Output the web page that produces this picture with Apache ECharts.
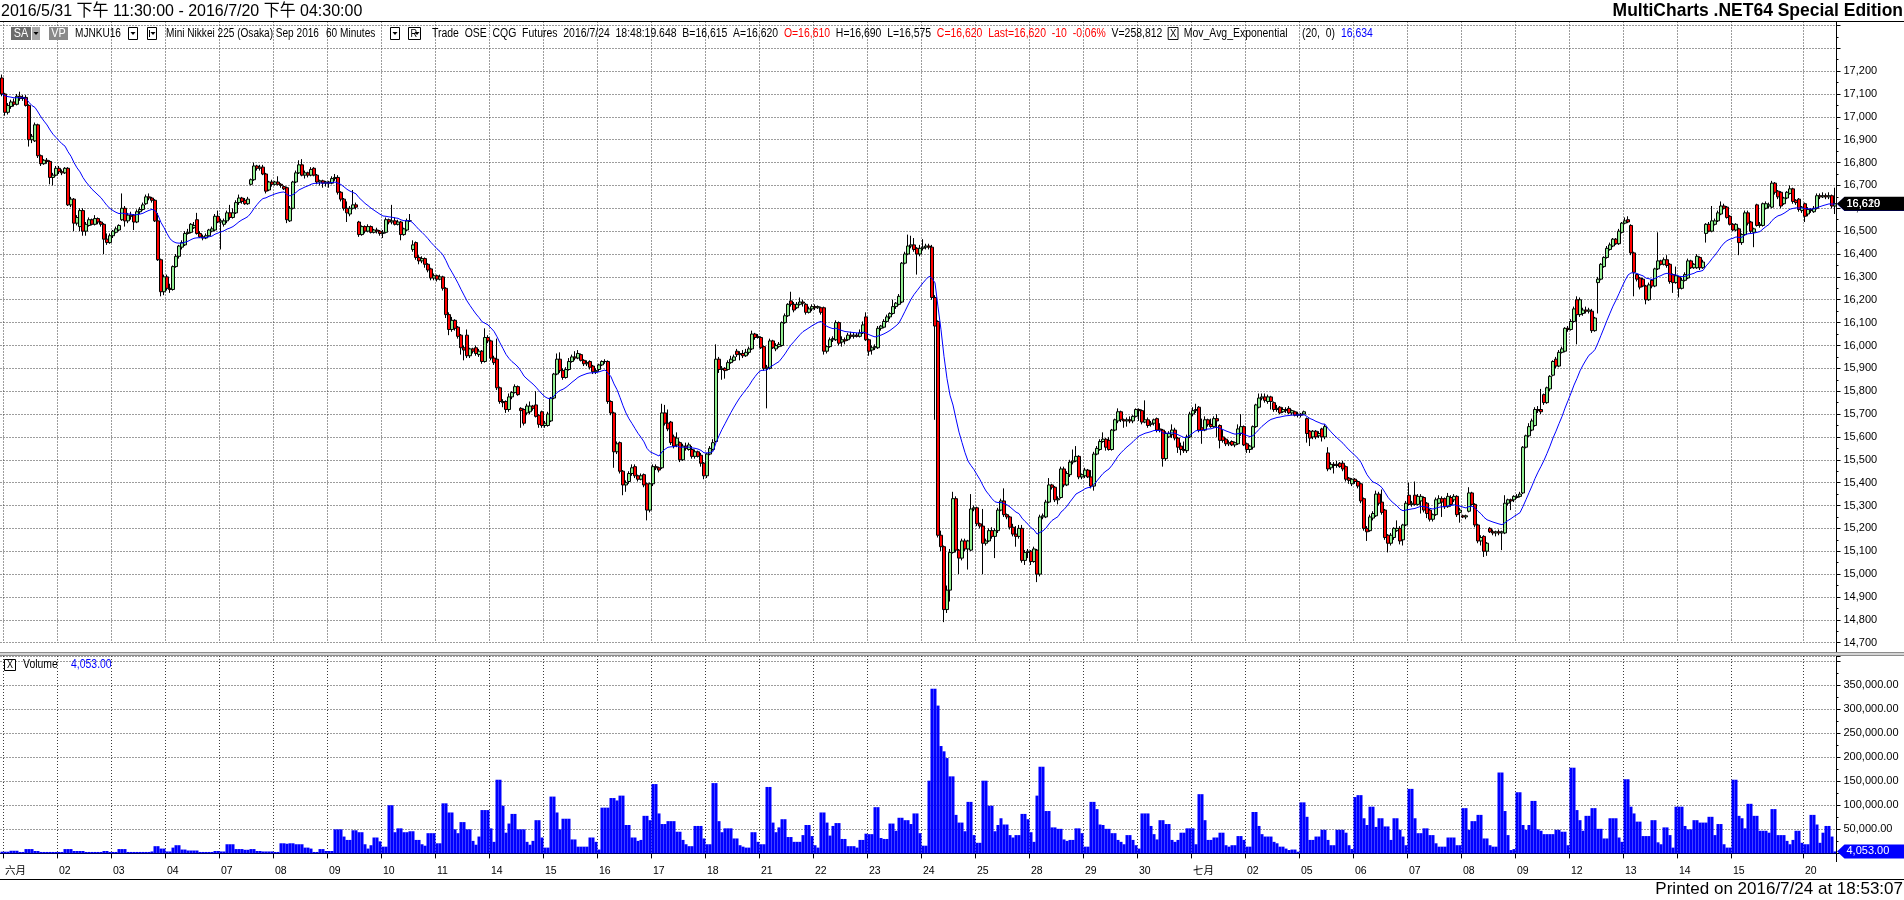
<!DOCTYPE html>
<html>
<head>
<meta charset="utf-8">
<title>MJNKU16 60 Minutes</title>
<script src="https://cdn.jsdelivr.net/npm/echarts@6/dist/echarts.min.js"></script>
<style>
  html, body { margin: 0; padding: 0; background: #fff; }
  #chart { width: 1904px; height: 900px; }
</style>
</head>
<body>
<div id="chart"></div>
<script>
// Mini Nikkei 225 Sep 2016, 60 minute bars, 2016/5/31 23:30 - 2016/7/20 16:30
// one row per bar: open, high, low, close
const ohlc = [
  // 5/31
  [17170,17185,17090,17100],
  // 六月
  [17100,17105,17005,17020],[17020,17060,17010,17050],[17045,17075,17035,17065],[17065,17080,17045,17055],[17055,17100,17050,17090],[17090,17110,17070,17080],
  [17080,17095,17070,17085],[17085,17095,17045,17050],[17050,17055,16870,16900],[16900,16925,16885,16915],[16895,16975,16890,16965],[16965,16970,16820,16830],
  [16830,16835,16785,16795],[16795,16815,16790,16810],[16810,16820,16795,16805],[16805,16810,16705,16735],[16735,16755,16700,16745],[16745,16785,16740,16775],
  // 02
  [16775,16785,16750,16760],[16760,16770,16745,16755],[16755,16780,16750,16775],[16775,16780,16610,16615],[16615,16650,16605,16640],[16640,16645,16500,16535],
  [16535,16570,16525,16560],[16520,16600,16500,16590],[16590,16600,16480,16500],[16500,16540,16480,16530],[16525,16560,16520,16550],[16550,16555,16525,16530],
  [16530,16570,16525,16555],[16555,16560,16530,16540],[16540,16545,16520,16530],[16530,16535,16400,16465],[16465,16490,16440,16450],[16450,16490,16445,16480],
  // 03
  [16480,16505,16470,16500],[16495,16520,16490,16510],[16505,16530,16500,16525],[16550,16665,16545,16600],[16600,16610,16520,16545],[16545,16580,16535,16570],
  [16570,16585,16550,16565],[16570,16575,16505,16540],[16540,16595,16535,16585],[16585,16605,16575,16595],[16595,16625,16590,16615],[16620,16660,16615,16650],
  [16650,16665,16635,16645],[16645,16650,16625,16635],[16635,16640,16540,16545],[16545,16580,16370,16375],[16375,16380,16215,16235],[16235,16310,16220,16300],
  // 04
  [16300,16310,16240,16250],[16250,16270,16230,16245],[16245,16350,16240,16345],[16345,16400,16340,16390],[16390,16440,16380,16435],[16430,16460,16420,16450],
  [16440,16500,16435,16490],[16490,16510,16485,16495],[16495,16535,16490,16530],[16515,16540,16510,16525],[16550,16580,16485,16490],[16490,16500,16470,16475],
  [16475,16485,16460,16470],[16470,16490,16465,16480],[16480,16510,16475,16505],[16500,16520,16495,16510],[16505,16575,16500,16565],[16565,16590,16535,16540],
  // 07
  [16540,16555,16420,16545],[16530,16555,16520,16545],[16545,16590,16535,16580],[16580,16615,16550,16560],[16560,16600,16555,16580],[16580,16635,16575,16625],
  [16625,16660,16615,16645],[16645,16650,16620,16630],[16635,16645,16615,16620],[16620,16650,16615,16640],[16705,16730,16700,16725],[16725,16800,16720,16785],
  [16785,16790,16765,16775],[16775,16790,16765,16780],[16780,16790,16745,16750],[16750,16755,16665,16675],[16680,16720,16675,16715],[16715,16725,16695,16705],
  // 08
  [16705,16720,16700,16715],[16715,16740,16700,16705],[16705,16710,16690,16700],[16695,16700,16680,16685],[16690,16695,16535,16550],[16545,16610,16540,16600],
  [16600,16720,16595,16715],[16715,16765,16710,16755],[16755,16810,16750,16790],[16790,16815,16740,16745],[16745,16765,16730,16755],[16755,16760,16735,16745],
  [16745,16780,16740,16770],[16775,16780,16740,16745],[16745,16750,16705,16715],[16715,16725,16700,16720],[16720,16725,16690,16710],[16710,16720,16695,16715],
  // 09
  [16715,16720,16690,16710],[16710,16740,16705,16730],[16730,16750,16720,16735],[16735,16745,16660,16670],[16670,16675,16630,16640],[16640,16645,16590,16600],
  [16600,16630,16540,16580],[16575,16610,16565,16600],[16600,16680,16595,16615],[16615,16625,16595,16605],[16540,16545,16475,16485],[16485,16525,16480,16520],
  [16520,16525,16490,16500],[16500,16530,16495,16520],[16520,16525,16490,16495],[16495,16510,16490,16505],[16505,16515,16490,16500],[16500,16505,16480,16490],
  // 10
  [16490,16505,16470,16495],[16495,16560,16490,16550],[16550,16555,16530,16540],[16540,16615,16530,16545],[16545,16560,16525,16530],[16530,16550,16525,16540],
  [16540,16545,16460,16485],[16485,16515,16480,16510],[16505,16555,16500,16545],[16545,16575,16540,16545],[16420,16460,16410,16440],[16450,16455,16375,16385],
  [16385,16395,16355,16370],[16370,16390,16360,16380],[16380,16385,16340,16355],[16355,16360,16320,16330],[16335,16340,16285,16295],[16295,16315,16285,16305],
  // 11
  [16305,16310,16280,16290],[16290,16310,16285,16300],[16300,16305,16240,16250],[16250,16255,16120,16135],[16135,16145,16045,16070],[16070,16125,16060,16110],
  [16110,16115,16065,16075],[16080,16085,16030,16040],[16045,16050,15960,15990],[15990,16000,15935,15980],[16045,16070,15945,15955],[15955,15990,15945,15985],
  [15985,15990,15965,15975],[15990,16000,15955,15965],[15960,15985,15950,15975],[15975,15980,15920,15930],[15930,16075,15925,16035],[16035,16045,16010,16020],
  // 14
  [16020,16025,15935,15945],[15945,15955,15915,15925],[15940,16030,15805,15815],[15815,15820,15745,15755],[15755,15765,15730,15750],[15755,15760,15705,15720],
  [15720,15790,15710,15775],[15775,15800,15765,15795],[15795,15830,15790,15820],[15820,15825,15780,15785],[15725,15730,15640,15715],[15720,15725,15650,15660],
  [15705,15745,15695,15735],[15710,15755,15700,15735],[15735,15740,15715,15725],[15740,15800,15685,15690],[15695,15700,15640,15655],[15710,15715,15640,15650],
  // 15
  [15650,15670,15640,15660],[15650,15710,15645,15700],[15670,15775,15665,15770],[15770,15880,15765,15875],[15875,15965,15870,15940],[15940,15970,15880,15890],
  [15890,15900,15850,15860],[15860,15905,15855,15895],[15895,15945,15890,15930],[15930,15960,15925,15950],[15950,15975,15935,15945],[15945,15980,15940,15965],
  [15960,15965,15930,15935],[15935,15940,15910,15920],[15920,15935,15910,15925],[15930,15935,15895,15905],[15910,15915,15875,15885],[15885,15900,15875,15890],
  // 16
  [15895,15920,15885,15915],[15915,15935,15910,15930],[15930,15940,15920,15930],[15930,15935,15745,15755],[15755,15760,15695,15705],[15705,15710,15465,15535],
  [15535,15580,15525,15570],[15575,15580,15440,15450],[15450,15455,15345,15390],[15390,15410,15360,15400],[15405,15450,15395,15440],[15440,15480,15430,15465],
  [15470,15480,15420,15430],[15430,15435,15405,15415],[15415,15440,15410,15430],[15435,15440,15380,15390],[15395,15400,15235,15280],[15280,15400,15270,15395],
  // 17
  [15395,15480,15385,15470],[15470,15480,15455,15465],[15465,15470,15445,15455],[15465,15745,15460,15705],[15705,15740,15650,15660],[15660,15720,15625,15635],
  [15665,15670,15565,15575],[15600,15610,15550,15560],[15565,15620,15555,15595],[15575,15580,15490,15500],[15500,15570,15495,15560],[15560,15575,15540,15550],
  [15545,15575,15540,15565],[15545,15560,15505,15515],[15515,15545,15505,15535],[15535,15540,15510,15515],[15520,15530,15470,15485],[15485,15490,15415,15430],
  // 18
  [15430,15530,15420,15525],[15525,15560,15520,15550],[15545,15590,15540,15575],[15580,16005,15575,15940],[15940,15950,15880,15895],[15895,15910,15850,15900],
  [15900,15905,15855,15890],[15895,15935,15890,15925],[15925,15955,15920,15940],[15935,15960,15930,15950],[15975,15985,15950,15960],[15960,15975,15935,15965],
  [15965,15980,15945,15955],[15955,15985,15950,15970],[15970,15995,15960,15985],[15985,16065,15980,16050],[16050,16055,16025,16035],[16035,16050,16030,16040],
  // 21
  [16035,16040,15985,15990],[15995,16000,15890,15900],[15900,15915,15725,15905],[15900,16030,15895,16020],[16020,16025,15985,15990],[15985,16010,15975,16000],
  [15995,16015,15990,16005],[16000,16105,15995,16100],[16100,16140,16095,16130],[16130,16185,16125,16180],[16195,16235,16170,16180],[16180,16190,16145,16155],
  [16165,16190,16160,16180],[16180,16210,16175,16190],[16190,16200,16170,16185],[16180,16185,16135,16145],[16145,16170,16140,16160],[16160,16180,16150,16170],
  // 22
  [16170,16180,16155,16165],[16165,16175,16160,16170],[16165,16170,16135,16145],[16165,16170,15960,15975],[15975,16000,15965,15995],[15995,16035,15990,16025],
  [16025,16040,16015,16030],[16025,16110,16020,16100],[16100,16105,16000,16010],[16015,16040,15995,16025],[16025,16035,16005,16020],[16025,16055,16020,16045],
  [16045,16060,16030,16040],[16040,16055,16030,16045],[16045,16055,16035,16040],[16040,16070,16035,16055],[16055,16105,16050,16090],[16125,16145,16020,16025],
  // 23
  [16025,16030,15955,15975],[15980,16000,15960,15990],[15990,16005,15980,15995],[15990,16085,15985,16075],[16075,16090,16065,16085],[16080,16115,16075,16105],
  [16105,16135,16100,16125],[16125,16145,16115,16140],[16140,16200,16135,16170],[16170,16190,16160,16185],[16180,16225,16175,16215],[16190,16365,16185,16360],
  [16360,16410,16355,16400],[16400,16485,16395,16435],[16435,16480,16425,16440],[16440,16470,16410,16420],[16425,16430,16310,16400],[16400,16440,16390,16425],
  // 24
  [16425,16465,16415,16430],[16430,16445,16420,16435],[16435,16445,16420,16430],[16430,16440,16200,16210],[16210,16220,15675,16085],[16105,16110,15160,15170],
  [15170,15190,15100,15120],[15120,15125,14790,14845],[14845,14950,14830,14930],[14930,15110,14880,15095],[15095,15360,15090,15330],[15330,15340,15095,15105],
  [15105,15110,15000,15070],[15070,15155,15060,15145],[15145,15155,15100,15110],[15110,15150,15020,15145],[15105,15350,15100,15285],[15285,15300,15275,15290],
  // 25
  [15290,15295,15210,15220],[15220,15225,15200,15210],[15210,15285,15000,15135],[15135,15155,15125,15145],[15145,15200,15140,15190],[15190,15205,15155,15165],
  [15165,15200,15070,15190],[15190,15290,15180,15280],[15280,15330,15275,15320],[15320,15375,15250,15260],[15260,15265,15240,15250],[15250,15255,15195,15205],
  [15205,15220,15165,15175],[15175,15210,15120,15165],[15165,15215,15155,15200],[15200,15215,15050,15060],[15060,15105,15040,15095],[15095,15110,15070,15100],
  // 28
  [15100,15105,15040,15055],[15055,15120,15050,15110],[15105,15110,14965,15000],[15000,15260,14990,15250],[15250,15265,15240,15255],[15250,15325,15245,15315],
  [15315,15420,15310,15390],[15390,15395,15370,15380],[15380,15385,15315,15325],[15325,15340,15305,15330],[15335,15470,15330,15460],[15460,15470,15380,15390],
  [15390,15450,15385,15440],[15435,15500,15425,15490],[15490,15545,15480,15495],[15495,15560,15490,15515],[15515,15520,15415,15425],[15425,15440,15415,15435],
  // 29
  [15430,15465,15420,15455],[15455,15460,15420,15425],[15425,15455,15375,15385],[15385,15535,15365,15525],[15525,15560,15520,15550],[15545,15590,15540,15580],
  [15580,15620,15575,15590],[15590,15595,15540,15555],[15585,15600,15540,15545],[15545,15635,15540,15630],[15630,15680,15625,15675],[15670,15725,15660,15710],
  [15710,15715,15665,15675],[15675,15680,15640,15670],[15670,15685,15645,15675],[15675,15690,15660,15670],[15670,15695,15660,15690],[15690,15725,15685,15720],
  // 30
  [15720,15725,15670,15715],[15715,15720,15655,15665],[15665,15760,15660,15675],[15675,15685,15640,15650],[15655,15670,15645,15660],[15660,15680,15650,15675],
  [15680,15685,15620,15630],[15635,15660,15620,15630],[15630,15635,15470,15505],[15505,15625,15495,15615],[15600,15625,15595,15615],[15610,15655,15595,15630],
  [15630,15640,15585,15595],[15595,15600,15530,15555],[15560,15575,15520,15545],[15545,15580,15530,15540],[15540,15610,15530,15600],[15600,15710,15595,15700],
  // 七月
  [15700,15730,15690,15715],[15715,15745,15705,15720],[15730,15735,15620,15630],[15640,15680,15570,15630],[15630,15690,15625,15675],[15675,15680,15645,15655],
  [15655,15680,15640,15645],[15645,15690,15640,15680],[15680,15700,15600,15670],[15650,15655,15550,15585],[15600,15630,15575,15585],[15590,15595,15560,15570],
  [15570,15585,15560,15575],[15580,15585,15560,15565],[15565,15580,15555,15575],[15570,15655,15565,15635],[15615,15700,15605,15645],[15645,15650,15560,15565],
  // 02
  [15570,15575,15530,15545],[15545,15565,15530,15560],[15555,15650,15545,15645],[15645,15745,15640,15740],[15730,15790,15725,15770],[15770,15790,15760,15775],
  [15775,15790,15750,15760],[15755,15785,15745,15775],[15775,15780,15720,15755],[15750,15755,15710,15720],[15720,15740,15710,15725],[15730,15735,15700,15705],
  [15710,15730,15705,15720],[15720,15730,15705,15715],[15725,15735,15700,15705],[15705,15720,15695,15715],[15710,15715,15690,15695],[15695,15710,15685,15700],
  // 05
  [15700,15705,15685,15695],[15700,15715,15695,15710],[15680,15685,15575,15615],[15625,15630,15560,15595],[15600,15630,15590,15625],[15625,15630,15590,15600],
  [15605,15625,15595,15615],[15635,15640,15580,15600],[15600,15655,15590,15645],[15530,15555,15450,15460],[15465,15490,15455,15480],[15480,15490,15440,15475],
  [15475,15495,15465,15480],[15485,15490,15465,15470],[15485,15495,15450,15460],[15470,15475,15405,15415],[15420,15425,15395,15410],[15395,15420,15385,15415],
  // 06
  [15415,15420,15395,15405],[15405,15410,15375,15385],[15395,15400,15310,15320],[15330,15335,15190,15200],[15200,15210,15145,15185],[15190,15260,15185,15250],
  [15245,15275,15235,15265],[15255,15365,15250,15350],[15350,15360,15300,15310],[15315,15370,15260,15270],[15280,15285,15150,15160],[15170,15175,15095,15135],
  [15135,15180,15125,15170],[15160,15205,15150,15200],[15190,15235,15185,15200],[15200,15210,15130,15145],[15150,15220,15125,15215],[15215,15320,15210,15310],
  // 07
  [15345,15400,15300,15305],[15305,15320,15295,15310],[15345,15405,15300,15305],[15305,15350,15300,15340],[15320,15350,15265,15340],[15335,15340,15270,15280],
  [15310,15315,15245,15265],[15280,15285,15230,15240],[15240,15265,15230,15260],[15260,15335,15255,15325],[15310,15345,15305,15330],[15330,15340,15250,15315],
  [15330,15335,15285,15295],[15295,15355,15290,15340],[15335,15345,15295,15305],[15325,15350,15315,15340],[15340,15345,15250,15260],[15270,15290,15225,15280],
  // 08
  [15255,15260,15245,15250],[15250,15260,15240,15255],[15275,15380,15270,15355],[15355,15360,15300,15305],[15305,15310,15205,15215],[15215,15220,15135,15145],
  [15145,15170,15125,15160],[15165,15170,15075,15100],[15100,15140,15080,15135],[15200,15205,15180,15185],[15185,15195,15170,15180],[15180,15190,15165,15185],
  [15185,15195,15170,15180],[15180,15190,15105,15185],[15180,15345,15175,15310],[15310,15330,15300,15325],[15325,15330,15280,15320],[15325,15345,15315,15340],
  // 09
  [15335,15350,15330,15340],[15340,15360,15335,15350],[15355,15560,15350,15555],[15555,15610,15550,15605],[15605,15660,15600,15645],[15630,15680,15625,15670],
  [15650,15730,15645,15720],[15720,15735,15705,15715],[15720,15810,15700,15710],[15785,15790,15740,15750],[15750,15820,15745,15815],[15810,15870,15800,15865],
  [15870,15935,15865,15930],[15940,15950,15900,15910],[15910,15980,15905,15970],[15970,15995,15965,15985],[15975,16080,15970,16075],[16075,16085,16060,16070],
  // 12
  [16070,16115,16065,16105],[16105,16170,16100,16160],[16200,16215,16005,16135],[16135,16210,16125,16200],[16140,16165,16130,16155],[16155,16170,16140,16150],
  [16150,16165,16140,16155],[16150,16160,16055,16065],[16065,16125,16060,16120],[16275,16300,16140,16290],[16290,16360,16285,16355],[16345,16390,16340,16385],
  [16385,16435,16380,16425],[16420,16450,16415,16440],[16435,16470,16430,16465],[16465,16470,16440,16445],[16445,16510,16440,16500],[16495,16540,16490,16535],
  // 13
  [16535,16560,16530,16545],[16550,16565,16535,16540],[16525,16530,16395,16405],[16405,16410,16215,16320],[16310,16315,16280,16290],[16295,16300,16245,16255],
  [16290,16295,16255,16260],[16260,16265,16180,16200],[16200,16275,16195,16265],[16285,16290,16250,16260],[16260,16340,16255,16335],[16335,16495,16330,16370],
  [16370,16375,16350,16355],[16355,16385,16350,16375],[16375,16395,16340,16350],[16355,16360,16270,16280],[16310,16315,16230,16275],[16275,16345,16270,16305],
  // 14
  [16300,16305,16210,16250],[16250,16295,16245,16285],[16285,16320,16280,16310],[16295,16380,16290,16370],[16370,16375,16335,16340],[16340,16360,16335,16355],
  [16340,16400,16335,16390],[16385,16390,16330,16340],[16340,16375,16335,16365],[16490,16535,16450,16530],[16530,16540,16495,16500],[16500,16610,16495,16545],
  [16530,16555,16525,16545],[16545,16590,16540,16580],[16575,16630,16570,16610],[16610,16620,16595,16600],[16605,16610,16555,16560],[16565,16570,16525,16530],
  // 15
  [16530,16535,16500,16505],[16505,16535,16500,16530],[16510,16515,16395,16450],[16450,16490,16440,16485],[16485,16590,16480,16580],[16580,16590,16525,16535],
  [16540,16545,16490,16500],[16495,16515,16430,16510],[16615,16620,16520,16525],[16525,16540,16515,16530],[16525,16625,16520,16620],[16600,16630,16595,16620],
  [16610,16625,16600,16615],[16605,16720,16600,16710],[16710,16715,16660,16670],[16675,16680,16640,16650],[16670,16675,16600,16610],[16620,16650,16615,16645],
  [16645,16675,16640,16670],[16665,16700,16660,16685],[16685,16690,16620,16630],[16635,16640,16615,16625],[16640,16645,16585,16595],[16590,16610,16580,16605],
  // 20
  [16620,16625,16540,16565],[16575,16605,16565,16595],[16595,16600,16580,16590],[16585,16610,16580,16600],[16600,16665,16595,16655],[16655,16665,16640,16650],
  [16650,16670,16645,16655],[16655,16665,16640,16650],[16650,16670,16640,16655],[16655,16660,16600,16610],[16610,16690,16575,16620]
];

// contracts per bar, same order as ohlc
const volume = [
  3500,
  3500,3500,5500,5500,5500,3000,3000,9000,9000,9000,5000,5000,3000,3000,3000,3000,3000,3000,
  3000,3000,9000,9000,9000,5000,5000,5000,5000,3000,3000,3000,3000,3000,3000,5000,5000,3000,
  3000,3000,9000,9000,9000,3000,3000,3000,3000,3000,3000,3000,3000,4000,15000,15000,10000,10000,
  4000,4000,12000,17000,17000,8000,8000,6000,6000,6000,6000,3000,3000,3000,3000,3000,5000,5000,
  4000,4000,19000,19000,19000,9000,9000,9000,7500,7500,9000,9000,5000,5000,4000,4000,4000,4000,
  3000,3000,21000,21000,20000,21000,21000,19000,19000,19000,12000,12000,10000,3000,3000,9000,9000,5000,
  5000,5000,50000,50000,50000,35000,28000,28000,48000,48000,44000,44000,19000,10000,17000,33000,33000,25000,
  14000,14000,100000,100000,44000,52000,52000,44000,44000,46000,46000,28000,28000,19000,16000,42000,42000,42000,
  21000,21000,104000,104000,85000,85000,50000,42000,65000,65000,50000,50000,26000,18000,35000,90000,90000,90000,
  52000,24000,153000,153000,99000,43000,62000,82000,82000,50000,50000,50000,24000,18000,26000,69000,69000,33000,
  12000,12000,118000,118000,85000,50000,72000,72000,72000,29000,29000,14000,14000,14000,14000,33000,33000,24000,
  8000,95000,95000,95000,115000,115000,110000,120000,120000,59000,59000,33000,33000,26000,28000,78000,78000,69000,
  144000,144000,83000,61000,61000,67000,67000,67000,45000,45000,28000,19000,15000,15000,57000,57000,57000,31000,
  19000,19000,146000,146000,67000,44000,52000,52000,52000,31000,31000,17000,14000,12000,12000,44000,44000,24000,
  19000,19000,138000,138000,64000,44000,54000,71000,71000,34000,34000,24000,24000,24000,38000,59000,59000,36000,
  17000,12000,85000,85000,64000,37000,57000,63000,63000,30000,30000,15000,15000,15000,12000,28000,28000,41000,
  40000,40000,96000,96000,32000,30000,30000,62000,62000,47000,74000,74000,69000,69000,61000,83000,83000,42000,
  16000,16000,151000,342000,342000,307000,223000,212000,198000,160000,160000,80000,64000,64000,46000,107000,107000,38000,
  22000,22000,151000,151000,99000,99000,46000,59000,73000,60000,60000,38000,33000,38000,38000,82000,82000,71000,
  44000,24000,120000,180000,180000,88000,88000,54000,54000,51000,51000,29000,26000,28000,28000,52000,52000,42000,
  14000,14000,107000,107000,92000,60000,59000,51000,51000,42000,42000,28000,24000,19000,38000,38000,28000,17000,
  10000,83000,83000,83000,57000,40000,29000,69000,69000,61000,61000,28000,24000,28000,43000,43000,52000,52000,
  52000,19000,123000,123000,69000,28000,28000,33000,33000,43000,43000,17000,14000,17000,17000,36000,36000,28000,
  14000,14000,86000,86000,57000,40000,35000,35000,35000,24000,21000,14000,14000,10000,7000,8000,8000,3500,
  106000,106000,76000,28000,28000,35000,35000,49000,49000,28000,17000,17000,49000,49000,49000,43000,17000,9000,
  117000,121000,121000,73000,59000,97000,97000,55000,73000,73000,56000,56000,28000,73000,73000,49000,35000,17000,
  134000,134000,73000,42000,42000,52000,52000,38000,38000,21000,14000,14000,14000,33000,33000,33000,17000,17000,
  94000,94000,49000,67000,67000,80000,80000,31000,31000,17000,14000,14000,168000,168000,88000,38000,7000,9000,
  127000,127000,59000,49000,59000,109000,109000,50000,47000,40000,40000,40000,40000,49000,49000,45000,45000,17000,
  178000,178000,90000,69000,47000,78000,78000,94000,94000,51000,51000,31000,31000,73000,73000,73000,33000,24000,
  154000,154000,97000,83000,66000,66000,36000,36000,36000,69000,69000,23000,19000,54000,54000,38000,12000,97000,
  97000,97000,57000,50000,50000,69000,69000,64000,64000,64000,76000,76000,38000,61000,61000,19000,12000,12000,
  153000,153000,78000,73000,52000,103000,103000,78000,78000,47000,47000,47000,43000,92000,92000,38000,38000,38000,
  26000,19000,28000,47000,47000,22000,
  19000,19000,80000,80000,60000,22000,43000,57000,57000,35000,4053
];

// first bar of each labelled day on the time axis
const dayStarts = [1, 19, 37, 55, 73, 91, 109, 127, 145, 163, 181, 199, 217, 235, 253, 271, 289,
  307, 325, 343, 361, 379, 397, 415, 433, 451, 469, 487, 505, 523, 541, 559, 577, 601];
const dayLabels = ['六月', '02', '03', '04', '07', '08', '09', '10', '11', '14', '15', '16', '17', '18', '21', '22', '23',
  '24', '25', '28', '29', '30', '七月', '02', '05', '06', '07', '08', '09', '12', '13', '14', '15', '20'];

const emaLength = 20;

const FONT = '"Liberation Sans", "Noto Sans CJK TC", sans-serif';

const chart = echarts.init(document.getElementById('chart'));

const candles = ohlc.map(([o, h, l, c]) => [o, c, l, h]);
const closes = ohlc.map(r => r[3]);
const alpha = 2 / (emaLength + 1);
const ema = [];
closes.forEach((c, i) => {
  ema.push(i === 0 ? c : ema[i - 1] + alpha * (c - ema[i - 1]));
});

const categories = ohlc.map((_, i) => String(i));
const isDayStart = (i) => dayStarts.indexOf(i) >= 0;
const dayName = (i) => {
  const k = dayStarts.indexOf(i);
  return k >= 0 ? dayLabels[k] : '';
};
const thousands = (v) => v.toLocaleString('en-US');
const volFmt = (v) => v.toLocaleString('en-US', { minimumFractionDigits: 2, maximumFractionDigits: 2 });

const dotted = { color: '#3a3a3a', width: 1, type: [1, 2] };
// plot is 612 bars x 3px, shifted half a pixel so candle outlines land on whole pixels
const PLOT_LEFT = 0.5;
const PLOT_RIGHT = 67.5;
const AXIS_X = 1904 - PLOT_RIGHT;

chart.setOption({
  animation: false,
  backgroundColor: '#fff',
  grid: [
    { left: PLOT_LEFT, right: PLOT_RIGHT, top: 21.5, bottom: 257.3 },
    { left: PLOT_LEFT, right: PLOT_RIGHT, top: 656, bottom: 46.6 }
  ],
  xAxis: [
    {
      type: 'category', gridIndex: 0, data: categories, boundaryGap: true,
      axisLine: { show: false }, axisTick: { show: false }, axisLabel: { show: false },
      splitLine: { show: true, interval: (i) => isDayStart(i), lineStyle: dotted }
    },
    {
      type: 'category', gridIndex: 1, data: categories, boundaryGap: true, offset: 8.6,
      axisLine: { show: true, lineStyle: { color: '#000', width: 1 } },
      axisTick: { show: true, interval: (i) => isDayStart(i), length: 5, lineStyle: { color: '#000' } },
      axisLabel: {
        show: true, interval: (i) => isDayStart(i), formatter: (v, i) => dayName(i),
        align: 'left', margin: 4, color: '#000', fontSize: 10.5, fontFamily: FONT
      },
      splitLine: { show: true, interval: (i) => isDayStart(i), lineStyle: dotted }
    }
  ],
  yAxis: [
    {
      type: 'value', gridIndex: 0, position: 'right', min: 14700, max: 17417, interval: 100,
      axisLine: { show: true, lineStyle: { color: '#000' } },
      axisTick: { show: true, length: 4, lineStyle: { color: '#000' } },
      minorTick: { show: true, splitNumber: 2, length: 2, lineStyle: { color: '#000' } },
      axisLabel: {
        margin: 7, color: '#000', fontSize: 11, fontFamily: FONT,
        formatter: (v) => (v <= 17200 && v % 100 === 0 ? thousands(v) : '')
      },
      splitLine: { show: true, lineStyle: dotted }
    },
    {
      type: 'value', gridIndex: 1, position: 'right', min: 0, max: 410000, interval: 50000,
      axisLine: { show: true, lineStyle: { color: '#000' } },
      axisTick: { show: true, length: 4, lineStyle: { color: '#000' } },
      minorTick: { show: true, splitNumber: 2, length: 2, lineStyle: { color: '#000' } },
      axisLabel: {
        margin: 7, color: '#000', fontSize: 11, fontFamily: FONT,
        formatter: (v) => (v > 0 && v <= 350000 ? volFmt(v) : '')
      },
      splitLine: { show: true, lineStyle: dotted }
    }
  ],
  series: [
    {
      name: 'MJNKU16', type: 'candlestick', xAxisIndex: 0, yAxisIndex: 0, data: candles,
      large: false, barWidth: 3,
      itemStyle: {
        color: '#90ee90', color0: '#ff0000',
        borderColor: '#000', borderColor0: '#000', borderColorDoji: '#000', borderWidth: 1
      }
    },
    {
      name: 'Mov_Avg_Exponential', type: 'line', xAxisIndex: 0, yAxisIndex: 0, data: ema,
      symbol: 'none', lineStyle: { color: '#0000ff', width: 1 }
    },
    {
      name: 'Volume', type: 'bar', xAxisIndex: 1, yAxisIndex: 1, data: volume, large: false,
      barWidth: '100%', barCategoryGap: '0%', itemStyle: { color: '#0000ff' }
    }
  ]
});

// ---- frame, header and value markers ----
// sx squeezes the text horizontally to match the condensed screen font of the original
const text = (x, y, str, font, fill, align, sx) => ({
  type: 'text', x, y, z: 60, scaleX: sx || 1,
  style: { text: str, font, fill: fill || '#000', textAlign: align || 'left', textVerticalAlign: 'middle' }
});
const rect = (x, y, w, h, fill, stroke) => ({
  type: 'rect', z: 60, shape: { x, y, width: w, height: h },
  style: { fill: fill || 'none', stroke: stroke || null, lineWidth: 1 }
});
const line = (x1, y1, x2, y2, color) => ({
  type: 'line', z: 60, shape: { x1, y1, x2, y2 }, style: { stroke: color || '#000', lineWidth: 1 }
});
const arrow = (cx, cy) => ({
  type: 'polygon', z: 61, shape: { points: [[cx - 2.5, cy - 1.5], [cx + 2.5, cy - 1.5], [cx, cy + 1.5]] },
  style: { fill: '#000' }
});
const dropBox = (x) => [rect(x + 0.5, 27.5, 9, 12, '#fff', '#000'), arrow(x + 5, 33.5)];
const marker = (y, fill, label, color) => [
  {
    type: 'polygon', z: 80,
    shape: { points: [[AXIS_X + 0.5, y], [AXIS_X + 8, y - 7], [1904, y - 7], [1904, y + 7], [AXIS_X + 8, y + 7]] },
    style: { fill }
  },
  { type: 'text', x: AXIS_X + 10, y, z: 81, style: { text: label, font: '11px ' + FONT, fill: color, textVerticalAlign: 'middle' } }
];

const lastClose = closes[closes.length - 1];
const lastEma = ema[ema.length - 1];
const lastVol = volume[volume.length - 1];
const yClose = chart.convertToPixel({ yAxisIndex: 0 }, lastClose);
const yEma = chart.convertToPixel({ yAxisIndex: 0 }, lastEma);
const yVol = chart.convertToPixel({ yAxisIndex: 1 }, lastVol);

const T = '12px ' + FONT;
const elements = [
  // title row
  text(1, 11, '2016/5/31 下午 11:30:00 - 2016/7/20 下午 04:30:00', '17px ' + FONT, '#000', 'left', 0.94),
  text(1903, 11, 'MultiCharts .NET64 Special Edition', 'bold 19px ' + FONT, '#000', 'right', 0.92),
  // frame
  line(0, 21.5, 1904, 21.5),
  line(AXIS_X, 21.5, AXIS_X, 862),
  line(0, 879.5, 1904, 879.5),
  { type: 'rect', z: 60, shape: { x: 0, y: 652, width: 1904, height: 4 }, style: { fill: '#d4d4d4' } },
  line(0, 652.5, 1904, 652.5, '#8c8c8c'),
  line(0, 655.5, 1904, 655.5, '#8c8c8c'),
  // toolbar
  rect(11, 27, 20, 13, '#6b6b6b'),
  text(21, 33.5, 'SA', T, '#fff', 'center', 0.9),
  rect(32, 27, 8, 13, '#a8a8a8'),
  arrow(36, 33.5),
  rect(49, 27, 19, 13, '#8a8a8a'),
  text(58.5, 33.5, 'VP', T, '#fff', 'center', 0.9),
  text(75, 33.5, 'MJNKU16', T, '#000', 'left', 0.84),
  ...dropBox(128),
  rect(147.5, 27.5, 9, 12, '#fff', '#000'),
  line(149.5, 30, 149.5, 37),
  arrow(153, 33.5),
  text(166, 33.5, 'Mini Nikkei 225 (Osaka) Sep 2016', T, '#000', 'left', 0.84),
  text(326, 33.5, '60 Minutes', T, '#000', 'left', 0.84),
  ...dropBox(390),
  rect(408.5, 27.5, 12, 12, '#fff', '#000'),
  text(410.5, 33.5, 'R', '11px ' + FONT, '#000', 'left', 0.84),
  arrow(417, 33.5),
  {
    type: 'text', x: 432, y: 33.5, z: 60, scaleX: 0.87,
    style: {
      text: '{k|Trade  OSE  CQG  Futures  2016/7/24  18:48:19.648  B=16,615  A=16,620}  {r|O=16,610}  ' +
        '{k|H=16,690  L=16,575}  {r|C=16,620  Last=16,620  -10  -0.06%}  {k|V=258,812}  {x|X}  ' +
        '{k|Mov_Avg_Exponential     (20,  0)}  {b|16,634}',
      font: T, fill: '#000', textVerticalAlign: 'middle',
      rich: {
        k: { fill: '#000', font: T },
        r: { fill: '#ff0000', font: T },
        b: { fill: '#0000ff', font: T },
        x: { fill: '#000', font: '11px ' + FONT, borderColor: '#000', borderWidth: 1, padding: [1, 2, 0, 2] }
      }
    }
  },
  // volume pane caption
  rect(4.5, 659.5, 11, 11, '#fff', '#000'),
  text(10, 665, 'X', '10px ' + FONT, '#000', 'center', 0.9),
  text(23, 665, 'Volume', T, '#000', 'left', 0.87),
  text(71, 665, volFmt(lastVol), T, '#0000ff', 'left', 0.87),
  // footer
  text(1903, 889, 'Printed on 2016/7/24 at 18:53:07', '17px ' + FONT, '#000', 'right'),
  // last value markers
  ...marker(yEma, '#0000ff', thousands(Math.round(lastEma)), '#fff'),
  ...marker(yClose, '#000', thousands(lastClose), '#fff'),
  ...marker(yVol, '#0000ff', volFmt(lastVol), '#fff')
];

chart.setOption({ graphic: { elements } });
</script>
</body>
</html>
